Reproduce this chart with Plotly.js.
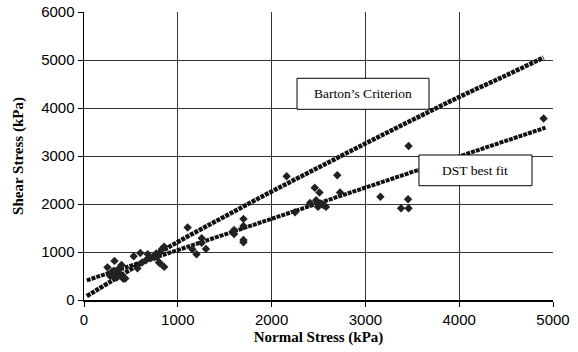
<!DOCTYPE html>
<html>
<head>
<meta charset="utf-8">
<script src="https://cdn.plot.ly/plotly-3.0.1.min.js"></script>
<style>html,body{margin:0;padding:0;background:#fff;}#chart{width:578px;height:352px;}</style>
</head>
<body>
<div id="chart"></div>
<script>
// Measured data points (Normal stress, Shear stress) in kPa
var dataNormal = [250,280,300,310,320,325,340,350,375,385,400,420,440,
  530,570,600,620,660,680,710,750,770,780,800,810,810,830,855,855,
  1105,1155,1200,1255,1255,1300,
  1600,1600,1700,1700,1700,1700,
  2160,2250,2410,2460,2475,2495,2510,2520,2550,2580,2700,2730,
  3160,3380,3455,3460,3460,4900];
var dataShear = [680,500,590,490,610,815,540,470,660,540,730,440,450,
  910,660,980,780,830,955,870,890,970,900,780,990,765,1060,690,1110,
  1510,1056,955,1285,1190,1065,
  1460,1375,1690,1540,1250,1205,
  2580,1830,2020,2340,2080,1940,2240,2010,1980,1940,2600,2240,
  2150,1910,2100,1910,3210,3780];

// Barton's Criterion curve
var bartonNormal = [30,500,1000,1500,2000,2500,3000,3500,4000,4500,4900];
var bartonShear  = [80,640,1210,1740,2260,2760,3260,3750,4230,4680,5050];

// DST best fit line
var dstNormal = [30,4920];
var dstShear  = [410,3590];

var xTicks = [0,1000,2000,3000,4000,5000];
var yTicks = [0,1000,2000,3000,4000,5000,6000];

var traces = [
  {x: bartonNormal, y: bartonShear, type:'scatter', mode:'lines',
   line:{color:'#111', width:4.5, dash:'4px,1px', shape:'spline'}, hoverinfo:'skip'},
  {x: dstNormal, y: dstShear, type:'scatter', mode:'lines',
   line:{color:'#111', width:4, dash:'4px,1px'}, hoverinfo:'skip'},
  {x: dataNormal, y: dataShear, type:'scatter', mode:'markers',
   marker:{symbol:'diamond', size:6.5, color:'#222'}}
];

var axisFont = {family:'Liberation Sans, Arial, sans-serif', size:15, color:'#000'};
var titleFont = {family:'Liberation Serif, Times New Roman, serif', size:15, color:'#000', weight:'bold'};
var boxFont = {family:'Liberation Serif, Times New Roman, serif', size:13.5, color:'#000'};

var layout = {
  width:578, height:352,
  margin:{l:84, r:25, t:12, b:52},
  paper_bgcolor:'#fff', plot_bgcolor:'#fff',
  showlegend:false,
  xaxis:{range:[0,5000], tickvals:xTicks, ticktext:xTicks.map(String),
    showgrid:true, gridcolor:'#333', gridwidth:1,
    showline:true, linecolor:'#000', linewidth:1.5,
    ticks:'outside', ticklen:5, tickcolor:'#000',
    tickfont:axisFont, zeroline:false,
    title:{text:'<b>Normal Stress (kPa)</b>', font:titleFont, standoff:5}},
  yaxis:{range:[0,6000], tickvals:yTicks, ticktext:yTicks.map(String),
    showgrid:true, gridcolor:'#333', gridwidth:1,
    showline:true, linecolor:'#000', linewidth:1.5,
    ticks:'outside', ticklen:5, tickcolor:'#000',
    tickfont:axisFont, zeroline:false,
    title:{text:'<b>Shear Stress (kPa)</b>', font:titleFont, standoff:14}},
  shapes:[
    {type:'rect', xref:'x', yref:'y', x0:2271, x1:3678, y0:3973, y1:4619,
     fillcolor:'#fff', line:{color:'#000', width:1}, layer:'above'},
    {type:'rect', xref:'x', yref:'y', x0:3571, x1:4776, y0:2381, y1:3021,
     fillcolor:'#fff', line:{color:'#000', width:1}, layer:'above'}
  ],
  annotations:[
    {xref:'x', yref:'y', x:2975, y:4296, text:'Barton’s Criterion', showarrow:false, font:boxFont},
    {xref:'x', yref:'y', x:4173, y:2701, text:'DST best fit', showarrow:false, font:boxFont}
  ]
};

Plotly.newPlot('chart', traces, layout, {displayModeBar:false, staticPlot:true});
</script>
</body>
</html>
